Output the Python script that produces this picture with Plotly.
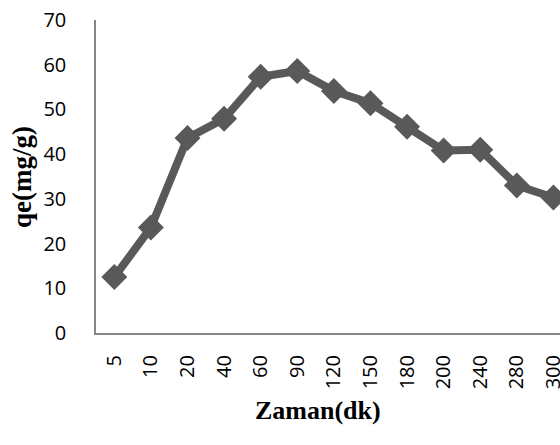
import plotly.graph_objects as go

categories = ["5", "10", "20", "40", "60", "90", "120", "150", "180", "200", "240", "280", "300"]
qe_values = [12.5, 23.6, 43.6, 47.9, 57.3, 58.6, 54.1, 51.4, 46.1, 40.8, 41.0, 33.0, 30.3]
y_ticks = [0, 10, 20, 30, 40, 50, 60, 70]

W, H = 560, 445
l, r, t, b = 96, 0, 20, 112
pw, ph = W - l - r, H - t - b

def px_to_paper(px, py):
    return (px - l) / pw, (H - b - py) / ph

fig = go.Figure()
fig.add_trace(go.Scatter(
    x=list(range(len(categories))), y=qe_values, mode="lines+markers",
    line=dict(color="#595959", width=8),
    marker=dict(symbol="diamond", size=20, color="#595959"),
    cliponaxis=False, showlegend=False,
))

ax_x, ax_y = px_to_paper(22, 177)
bx_x, bx_y = px_to_paper(318, 411)

fig.update_layout(
    width=W, height=H,
    margin=dict(l=l, r=r, t=t, b=b, autoexpand=False),
    paper_bgcolor="white", plot_bgcolor="white",
    xaxis=dict(
        tickmode="array", tickvals=list(range(len(categories))), ticktext=categories,
        range=[-0.5, 12.18], showgrid=False, zeroline=False, automargin=False,
        showline=True, linecolor="#868686", linewidth=2,
        tickangle=-90, ticks="", ticklabelstandoff=12, ticklabeloverflow="allow",
        tickfont=dict(family="Open Sans", size=20, color="black"),
    ),
    yaxis=dict(
        range=[0, 70], tickvals=y_ticks, showgrid=False, zeroline=False, automargin=False,
        showline=True, linecolor="#868686", linewidth=1.5,
        ticks="", ticklabelstandoff=24,
        tickfont=dict(family="Open Sans", size=20, color="black"),
    ),
    annotations=[
        dict(text="<b>qe(mg/g)</b>", x=ax_x, y=ax_y, xref="paper", yref="paper",
             showarrow=False, textangle=-90, xanchor="center", yanchor="middle",
             font=dict(family="Liberation Serif", size=27, color="black")),
        dict(text="<b>Zaman(dk)</b>", x=bx_x, y=bx_y, xref="paper", yref="paper",
             showarrow=False, xanchor="center", yanchor="middle",
             font=dict(family="Liberation Serif", size=26, color="black")),
    ],
)

fig.write_html(
    "out.html",
    config={"displayModeBar": False},
    post_script="document.body.style.margin='0';document.body.style.overflow='hidden';",
)
